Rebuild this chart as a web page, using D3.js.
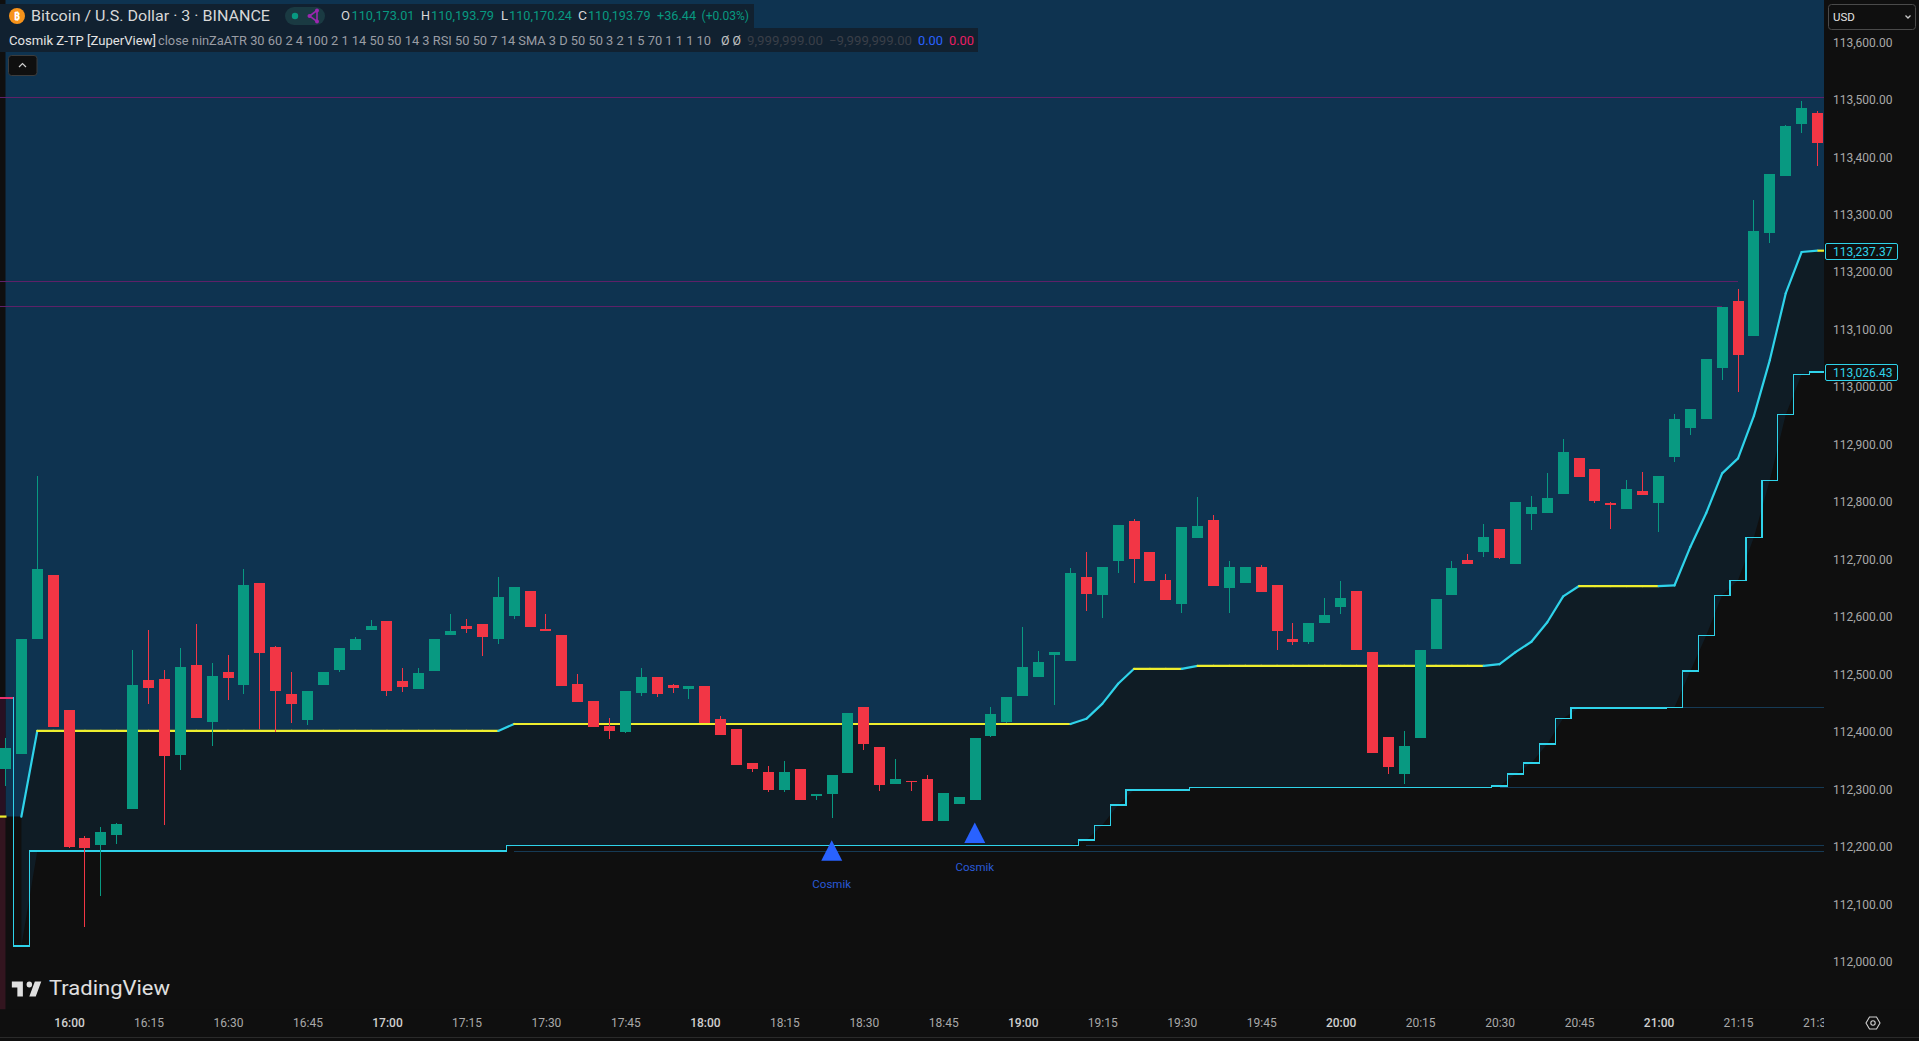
<!DOCTYPE html>
<html><head><meta charset="utf-8"><title>BTCUSD</title>
<script src="https://cdn.jsdelivr.net/npm/d3@7"></script>
<style>html,body{margin:0;padding:0;background:#0f0f0f;overflow:hidden}svg{display:block}text{font-family:Roboto,"Noto Sans",sans-serif}</style>
</head><body><svg id="c" width="1919" height="1041"></svg>
<script>
const opens=[112336,112362,112562,112674,112439,112216,112204,112221,112266,112491,112493,112360,112517,112418,112505,112481,112660,112548,112467,112421,112482,112508,112543,112578,112594,112489,112475,112507,112568,112585,112588,112562,112602,112646,112580,112569,112484,112454,112411,112400,112468,112496,112482,112475,112480,112423,112405,112346,112331,112300,112335,112289,112292,112329,112444,112374,112310,112315,112319,112246,112275,112282,112393,112418,112463,112496,112534,112524,112670,112639,112698,112767,112713,112665,112623,112738,112769,112651,112659,112687,112656,112562,112557,112590,112618,112646,112539,112392,112327,112390,112545,112639,112699,112713,112754,112692,112780,112781,112814,112877,112858,112799,112788,112820,112799,112879,112929,112945,113034,113150,113089,113268,113367,113458,113477];
const highs=[112390,112561,112846,112674,112439,112220,112235,112242,112543,112578,112508,112547,112588,112520,112534,112684,112660,112550,112505,112472,112505,112547,112566,112595,112594,112512,112512,112562,112606,112597,112588,112670,112652,112646,112606,112569,112501,112454,112425,112472,112512,112496,112484,112480,112480,112428,112405,112346,112341,112350,112335,112292,112325,112433,112444,112374,112353,112315,112325,112294,112287,112390,112444,112461,112583,112541,112539,112685,112713,112687,112760,112771,112713,112675,112757,112809,112778,112698,112687,112691,112656,112590,112590,112633,112663,112646,112539,112392,112402,112543,112632,112698,112710,112762,112754,112800,112811,112851,112910,112877,112858,112800,112839,112853,112846,112954,112962,113049,113140,113171,113326,113371,113456,113498,113480];
const lows=[112307,112362,112562,112408,112199,112061,112114,112206,112266,112448,112239,112334,112425,112376,112456,112467,112406,112400,112415,112413,112482,112505,112543,112578,112463,112470,112475,112507,112568,112573,112533,112553,112597,112583,112576,112480,112453,112409,112388,112399,112463,112461,112468,112458,112416,112395,112343,112331,112296,112296,112282,112282,112251,112329,112369,112298,112310,112298,112246,112246,112275,112282,112392,112416,112463,112496,112447,112524,112611,112599,112677,112659,112663,112630,112607,112738,112654,112607,112659,112644,112543,112552,112553,112590,112606,112543,112364,112327,112310,112390,112545,112639,112692,112704,112701,112692,112752,112781,112814,112844,112799,112754,112788,112813,112748,112870,112917,112945,113013,112992,113089,113251,113367,113442,113385];
const closes=[112373,112561,112684,112408,112200,112199,112227,112240,112481,112477,112359,112514,112425,112498,112494,112656,112538,112472,112448,112472,112505,112547,112562,112585,112472,112479,112503,112562,112576,112580,112566,112635,112652,112583,112576,112480,112453,112409,112402,112472,112496,112466,112477,112480,112416,112395,112343,112336,112300,112331,112282,112292,112325,112433,112380,112308,112319,112313,112246,112294,112287,112390,112432,112461,112513,112522,112539,112677,112640,112687,112760,112701,112663,112630,112757,112759,112654,112687,112687,112644,112576,112557,112590,112604,112633,112543,112364,112340,112376,112543,112632,112685,112692,112739,112703,112800,112792,112807,112887,112844,112802,112795,112823,112813,112846,112945,112962,113049,113140,113056,113272,113371,113454,113486,113425];
const upperLine=[112253,112253,112402,112402,112402,112402,112402,112402,112402,112402,112402,112402,112402,112402,112402,112402,112402,112402,112402,112402,112402,112402,112402,112402,112402,112402,112402,112402,112402,112402,112402,112402,112414,112414,112414,112414,112414,112414,112414,112414,112414,112414,112414,112414,112414,112414,112414,112414,112414,112414,112414,112414,112414,112414,112414,112414,112414,112414,112414,112414,112414,112414,112414,112414,112414,112414,112414,112414,112423,112449,112484,112510,112510,112510,112510,112515,112515,112515,112515,112515,112515,112515,112515,112515,112515,112515,112515,112515,112515,112515,112515,112515,112515,112515,112518,112539,112557,112591,112636,112654,112654,112654,112654,112654,112654,112655,112722,112781,112850,112876,112950,113047,113163,113235,113237.37];
const stepLine=[112459,112028,112193,112193,112193,112193,112193,112193,112193,112193,112193,112193,112193,112193,112193,112193,112193,112193,112193,112193,112193,112193,112193,112193,112193,112193,112193,112193,112193,112193,112193,112193,112203,112203,112203,112203,112203,112203,112203,112203,112203,112203,112203,112203,112203,112203,112203,112203,112203,112203,112203,112203,112203,112203,112203,112203,112203,112203,112203,112203,112203,112203,112203,112203,112203,112203,112203,112203,112212,112238,112273,112299,112299,112299,112299,112304,112304,112304,112304,112304,112304,112304,112304,112304,112304,112304,112304,112304,112304,112304,112304,112304,112304,112304,112306,112327,112346,112379,112424,112442,112442,112442,112442,112442,112442,112443,112506,112568,112638,112664,112739,112838,112952,113022,113026.43];
const priceTicks=[113600,113500,113400,113300,113200,113100,113000,112900,112800,112700,112600,112500,112400,112300,112200,112100,112000];
const timeTicks=[4,9,14,19,24,29,34,39,44,49,54,59,64,69,74,79,84,89,94,99,104,109,114];
const timeLabels=["16:00","16:15","16:30","16:45","17:00","17:15","17:30","17:45","18:00","18:15","18:30","18:45","19:00","19:15","19:30","19:45","20:00","20:15","20:30","20:45","21:00","21:15","21:30"];
const supportLevels=[112193,112203,112304,112442];
const supportStarts=[32,68,94,105];
const resistLevels=[113504,113184,113141];
const resistEnds=[null,109,108];
const signalBars=[52,61];
const signalPrices=[112176,112207];
const signalLabels=["Cosmik","Cosmik"];
const lastValues=[113237.37,113026.43];

const W=1919,H=1041,plotR=1824,plotB=1009.5;
const svg=d3.select("#c");
const x=d3.scaleLinear().domain([0,114]).range([5.5,1817.5]);
const y=d3.scaleLinear().domain([112000,113600]).range([962,42.2]);
const idx=d3.range(opens.length);
const xEnd=x.invert(plotR);
const ext=idx.concat([xEnd]);
const val=(arr,i)=>arr[Math.min(Math.floor(i),arr.length-1)];

svg.append("rect").attr("width",W).attr("height",H).attr("fill","#0f0f0f");

// regions
svg.append("path").attr("fill","#0e3350").attr("d",
  d3.area().x(i=>x(i)).y0(0).y1(i=>y(val(upperLine,i)))(ext));
svg.append("path").attr("fill","#0f1c25").attr("d",
  d3.area().x(i=>x(i)).y0(i=>y(val(stepLine,i))).y1(i=>y(val(upperLine,i)))(ext.slice(1)));
// left strip
svg.append("rect").attr("x",0).attr("width",x(0)).attr("y",y(stepLine[0])).attr("height",y(upperLine[0])-y(stepLine[0])).attr("fill","#281022");
svg.append("rect").attr("x",0).attr("width",x(0)).attr("y",y(upperLine[0])).attr("height",plotB-y(upperLine[0])).attr("fill","#33151f");

// thin levels
const g=svg.append("g").attr("shape-rendering","crispEdges");
resistLevels.forEach((p,k)=>{
  g.append("line").attr("x1",0).attr("x2",resistEnds[k]===null?plotR:x(resistEnds[k])).attr("y1",y(p)).attr("y2",y(p)).attr("stroke","#5e2168").attr("stroke-width",1);
});
supportLevels.forEach((p,k)=>{
  g.append("line").attr("x1",x(supportStarts[k])).attr("x2",plotR).attr("y1",y(p)).attr("y2",y(p)).attr("stroke","#163a55").attr("stroke-width",1);
});

// upper line, coloured by slope
const seg=d3.line().x(i=>x(i)).y(i=>y(val(upperLine,i)));
const CY="#2fd3ea",YE="#eeee2e";
svg.append("path").attr("d",d3.line()([[0,y(upperLine[0])],[x(0)+1,y(upperLine[0])]])).attr("stroke",YE).attr("stroke-width",2.2).attr("fill","none");
idx.slice(1,-1).forEach(i=>{
  const flat=upperLine[i]===upperLine[i+1];
  svg.append("path").attr("d",seg([i,i+1])).attr("fill","none").attr("stroke-width",2.2)
    .attr("stroke",flat?YE:CY).attr("stroke-linecap","round");
});
svg.append("path").attr("d",seg([114,xEnd])).attr("stroke",YE).attr("stroke-width",2.2).attr("fill","none");

// step line
const stepG=svg.append("g").attr("shape-rendering","crispEdges");
stepG.append("path").attr("d",d3.line().curve(d3.curveStep).x(i=>x(i)).y(i=>y(stepLine[i]))(idx))
  .attr("fill","none").attr("stroke",CY).attr("stroke-width",1.3);
stepG.append("path").attr("d",d3.line().x(i=>x(i)).y(i=>y(val(stepLine,i)))([114,xEnd])).attr("fill","none").attr("stroke",CY).attr("stroke-width",1.3);
stepG.append("path").attr("d",d3.line()([[0,y(stepLine[0])],[x(0.5),y(stepLine[0])]])).attr("fill","none").attr("stroke","#e8336e").attr("stroke-width",1.3);

// candles
const UP="#089981",DN="#f23645";
const cg=svg.append("g").attr("shape-rendering","crispEdges").selectAll("g").data(idx).join("g");
cg.append("rect").attr("x",i=>Math.floor(x(i))).attr("width",1)
  .attr("y",i=>Math.round(y(highs[i]))).attr("height",i=>Math.max(0,Math.round(y(lows[i]))-Math.round(y(highs[i]))))
  .attr("fill",i=>closes[i]>=opens[i]?UP:DN);
cg.append("rect").attr("x",i=>Math.floor(x(i))-5).attr("width",11)
  .attr("y",i=>Math.round(y(Math.max(opens[i],closes[i]))))
  .attr("height",i=>Math.max(1,Math.round(y(Math.min(opens[i],closes[i])))-Math.round(y(Math.max(opens[i],closes[i])))))
  .attr("fill",i=>closes[i]>=opens[i]?UP:DN);

// signals
signalBars.forEach((b,k)=>{
  const px=x(b)-0.3,py=y(signalPrices[k]);
  svg.append("path").attr("d",d3.line()([[px,py-20.5],[px+10.5,py],[px-10.5,py]])+"Z").attr("fill","#2962ff");
  svg.append("text").attr("x",px).attr("y",py+27.5).attr("text-anchor","middle").attr("font-size",11.5).attr("fill","#2a5ad6").text(signalLabels[k]);
});

// right + bottom panels
svg.append("rect").attr("x",plotR).attr("y",0).attr("width",W-plotR).attr("height",H).attr("fill","#0f0f0f");
svg.append("rect").attr("x",0).attr("y",plotB).attr("width",W).attr("height",H-plotB).attr("fill","#0f0f0f");
svg.append("rect").attr("x",0).attr("y",1037).attr("width",W).attr("height",1).attr("fill","#2a2a2a");

// axes
const ya=svg.append("g").attr("transform",`translate(1833,0)`)
  .call(d3.axisRight(y).tickValues(priceTicks).tickFormat(d3.format(",.2f")).tickSize(0).tickPadding(0));
ya.select(".domain").remove();
ya.selectAll("text").attr("fill","#a9a9a9").attr("font-size",12).attr("font-family","Roboto");

svg.append("clipPath").attr("id","tc").append("rect").attr("x",0).attr("y",plotB).attr("width",plotR).attr("height",27);
const xa=svg.append("g").attr("clip-path","url(#tc)").append("g").attr("transform",`translate(0,1018)`)
  .call(d3.axisBottom(x).tickValues(timeTicks).tickFormat((d,i)=>timeLabels[i]).tickSize(0).tickPadding(0));
xa.select(".domain").remove();
xa.selectAll("text").attr("font-size",12).attr("font-family","Roboto")
  .attr("fill",(d,i)=>timeLabels[i].endsWith(":00")?"#cfcfcf":"#a9a9a9")
  .attr("font-weight",(d,i)=>timeLabels[i].endsWith(":00")?500:400);

// last value tags
lastValues.forEach(v=>{
  const py=y(v)+1;
  svg.append("rect").attr("x",1825.5).attr("y",Math.round(py)-8.5).attr("width",72).attr("height",16).attr("rx",1.5)
    .attr("fill","#0f0f0f").attr("stroke",CY).attr("stroke-width",1);
  svg.append("text").attr("x",1833).attr("y",py+4.3).attr("font-size",12).attr("fill",CY).text(d3.format(",.2f")(v));
});

// USD
svg.append("rect").attr("x",1828.5).attr("y",4.5).attr("width",87).attr("height",25).attr("rx",3).attr("fill","#0f0f0f").attr("stroke","#4a4a4a");
svg.append("text").attr("x",1833).attr("y",21).attr("font-size",11.5).attr("fill","#e4e4e4").text("USD");
svg.append("path").attr("d","M1905.5 15.5l2.5 2.5 2.5-2.5").attr("fill","none").attr("stroke","#c8c8c8").attr("stroke-width",1.3);

// settings hexagon
svg.append("path").attr("d","M1866 1023l3.5-6h7l3.5 6-3.5 6h-7z").attr("fill","none").attr("stroke","#d0d0d0").attr("stroke-width",1.1);
svg.append("circle").attr("cx",1873).attr("cy",1023).attr("r",2.2).attr("fill","none").attr("stroke","#d0d0d0").attr("stroke-width",1.1);

// logo
svg.append("path").attr("transform","translate(10,975.5) scale(0.92,1)").attr("fill","#e0e0e0")
  .attr("d","M14 6H2v6h6v9h6V6zm14 15h-7l6-15h7l-6 15zm-7-9a3 3 0 1 0 0-6 3 3 0 0 0 0 6z");
svg.append("text").attr("x",49).attr("y",995).attr("font-size",20).attr("fill","#e0e0e0")
  .attr("font-family","Inter").attr("textLength",121).attr("lengthAdjust","spacingAndGlyphs").text("TradingView");

// header
const HBG="#112130";
svg.append("rect").attr("x",0).attr("y",4).attr("width",754).attr("height",24).attr("fill",HBG);
svg.append("rect").attr("x",0).attr("y",28).attr("width",978).attr("height",24).attr("fill",HBG);
function t(s,xp,yp,len,fill,size,w){
  const e=svg.append("text").attr("x",xp).attr("y",yp).attr("font-size",size||12).attr("fill",fill).text(s);
  if(w)e.attr("font-weight",w);
  if(len)e.attr("textLength",len).attr("lengthAdjust","spacingAndGlyphs");
}
svg.append("circle").attr("cx",17).attr("cy",16).attr("r",8).attr("fill","#f7931a");
svg.append("text").attr("x",17).attr("y",20).attr("text-anchor","middle").attr("font-size",11).attr("font-weight",700).attr("fill","#fff").text("₿");
t("Bitcoin / U.S. Dollar · 3 · BINANCE",31,21,239,"#d8d8d8",14);
svg.append("rect").attr("x",285).attr("y",7).attr("width",40).attr("height",18).attr("rx",9).attr("fill","#1a3a42");
svg.append("circle").attr("cx",295).attr("cy",16).attr("r",3.2).attr("fill","#089981");
svg.append("path").attr("d","M317 10.5L309.5 16L317 21.5V10.5").attr("fill","none").attr("stroke","#9c27b0").attr("stroke-width",1.6);
[[317,10.5],[309.5,16],[317,21.5]].forEach(p=>svg.append("circle").attr("cx",p[0]).attr("cy",p[1]).attr("r",2).attr("fill","#9c27b0"));
const G="#089981",L="#d8d8d8";
t("O",341,20,9,L,12);t("110,173.01",351.5,20,63,G,12);
t("H",421,20,9,L,12);t("110,193.79",431,20,63,G,12);
t("L",501,20,7,L,12);t("110,170.24",509,20,63,G,12);
t("C",578,20,9,L,12);t("110,193.79",588,20,62.5,G,12);
t("+36.44",657,20,39,G,12);t("(+0.03%)",701.5,20,47.5,G,12);
t("Cosmik Z-TP [ZuperView]",9,44.5,147,"#e4e4e4",12);
t("close ninZaATR 30 60 2 4 100 2 1 14 50 50 14 3 RSI 50 50 7 14 SMA 3 D 50 50 3 2 1 5 70 1 1 1 10",158,44.5,553,"#9a9da4",12);
t("Ø Ø",721,44.5,20,"#c4c4c4",12);
t("9,999,999.00",747,44.5,76,"#3a3f48",12);
t("−9,999,999.00",829,44.5,83,"#3a3f48",12);
t("0.00",918,44.5,25,"#2962ff",12);
t("0.00",949,44.5,25,"#e91e63",12);
svg.append("rect").attr("x",8.5).attr("y",55.5).attr("width",28.5).attr("height",20).attr("rx",3).attr("fill","#0f0f0f").attr("stroke","#3c3c3c");
svg.append("path").attr("d","M19 67l3.5-3.5 3.5 3.5").attr("fill","none").attr("stroke","#d0d0d0").attr("stroke-width",1.2);
</script></body></html>
